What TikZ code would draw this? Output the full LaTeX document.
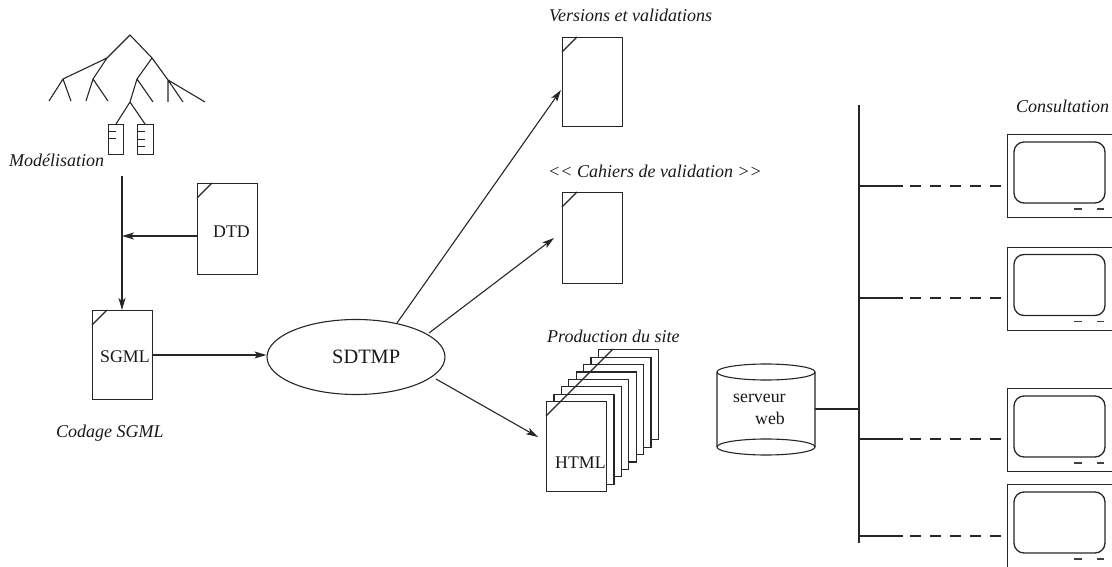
\documentclass[tikz,border=0pt]{standalone}
\usepackage{fontspec}
\setmainfont{Liberation Serif}
\usetikzlibrary{arrows.meta,shapes.geometric}
\tikzset{
 ln/.style={draw=black!85,line width=1.1pt},
 arr/.style={ln,-{Stealth[length=12pt,width=7pt,inset=3pt]}},
 lab/.style={font=\fontsize{18}{20}\selectfont\itshape,inner sep=0pt,text=black!90,anchor=base west},
 txt/.style={font=\fontsize{17.8}{20}\selectfont,inner sep=0pt,text=black!90,anchor=base west}
}
\newcommand{\docpage}[5]{% name,x0,y0,x1,y1
 \node[ln,fill=white,rectangle,inner sep=0pt,minimum width=#4pt-#2pt,minimum height=#5pt-#3pt,anchor=north west] (#1) at (#2,#3) {};
 \draw[ln] (#2,#3+15) -- (#2+15,#3);
}
\newcommand{\monitor}[2]{% name, y0
 \node[draw=black!85,line width=1.3pt,rectangle,inner sep=0pt,minimum width=105pt,minimum height=83pt,anchor=north west] (#1) at (1007,#2) {};
 \draw[draw=black!85,line width=1.3pt,rounded corners=10pt] (1014,#2+8) rectangle (1105,#2+69);
 \draw[draw=black!75,line width=1.4pt] (1074,#2+75) -- (1082,#2+75) (1097,#2+75) -- (1104,#2+75);
}
\begin{document}
\begin{tikzpicture}[x=1pt,y=-1pt]
\useasboundingbox (0,0) rectangle (1112,567);
% tree
\draw[ln,line join=round]
 (49,101) -- (63,79) -- (71,101)
 (63,79) -- (107,58) -- (130,35) -- (152,58) -- (137,79) -- (130,102)
 (86,101) -- (93,79) -- (108,101)
 (93,79) -- (107,58)
 (137,79) -- (153,102)
 (152,58) -- (168,80) -- (168,102)
 (168,80) -- (183,102)
 (168,80) -- (205,102)
 (130,102) -- (116,124)
 (130,102) -- (145,124);
\node[ln,rectangle,inner sep=0pt,minimum width=15pt,minimum height=30pt,anchor=north west] (leafA) at (108,124) {};
\node[ln,rectangle,inner sep=0pt,minimum width=16pt,minimum height=30pt,anchor=north west] (leafB) at (137,124) {};
\draw[ln,line width=.9pt] (108,131) -- (116,131) (108,138) -- (116,138) (137,131) -- (145,131) (137,139) -- (145,139) (137,146) -- (145,146);
\node[lab] (model) at (9,167) {Modélisation};
% left column
\docpage{dtd}{197}{183}{257}{274}
\node[txt] (dtdt) at (213,237) {DTD};
\docpage{sgml}{92}{310}{152}{399}
\node[txt] (sgmlt) at (100,362) {SGML};
\node[lab] (code) at (56,437) {Codage SGML};
\coordinate (top) at (122,176);
\coordinate (j) at (122,236);
\draw[arr] (top) -- (sgml.north -| top);
\draw[arr] (dtd.west |- j) -- (j);
% sdtmp
\node[ln,ellipse,minimum width=178pt,minimum height=75pt,inner sep=0pt] (sd) at (356,357) {};
\node[font=\fontsize{20.4}{22}\selectfont,inner sep=0pt,text=black!90,anchor=base west] (sdt) at (332,363) {SDTMP};
\coordinate (sa) at (152,355);
\draw[arr] (sa) -- (sd.west |- sa);
% right pages
\docpage{ver}{562}{37}{622}{126}
\node[lab] (vert) at (549,22) {Versions et validations};
\docpage{cah}{562}{192}{622}{283}
\node[lab] (caht) at (548,178) {<{}< Cahiers de validation >{}>};
\coordinate (a1) at (397,323);
\coordinate (a2) at (429,333);
\coordinate (a3) at (436,379);
\coordinate (e1) at (561,90);
\coordinate (e2) at (554,238);
\coordinate (e3) at (538,437);
\draw[arr] (a1) -- (e1);
\draw[arr] (a2) -- (e2);
\draw[arr] (a3) -- (e3);
% stack
\node[lab] (prod) at (547,342) {Production du site};
\foreach \i in {7,6,...,0}{
 \node[ln,fill=white,rectangle,inner sep=0pt,minimum width=60pt,minimum height=90pt,anchor=north west] (pg\i) at ({546+7.4*\i},{401-7.4*\i}) {};
}
\draw[ln] (546,416) -- (613,349);
\node[txt] (htmlt) at (555,468) {HTML};
% server
\draw[ln,fill=white] (717,372) -- (717,447) arc[start angle=180,end angle=360,x radius=49pt,y radius=8pt] -- (815,372);
\draw[ln] (717,447) arc[start angle=180,end angle=0,x radius=49pt,y radius=8pt];
\draw[ln] (766,372) ellipse[x radius=49pt,y radius=8pt];
\node[txt] (srvA) at (733,402) {serveur};
\node[txt] (srvB) at (755,424) {web};
\coordinate (srv) at (815,409);
% bus
\coordinate (busT) at (859,105);
\coordinate (busB) at (859,543);
\draw[ln,line width=1.5pt] (busT) -- (busB);
\draw[ln,line width=1.5pt] (srv) -- (srv -| busT);
\foreach \y in {186,298,439,536}{
 \draw[ln,line width=1.5pt] (859,\y) -- (903,\y);
 \draw[ln,line width=1.3pt,dash pattern=on 11pt off 9pt] (910,\y) -- (1001,\y);
}
\monitor{m1}{134}
\monitor{m2}{246.5}
\monitor{m3}{388}
\monitor{m4}{484}
\node[lab] (cons) at (1016,113) {Consultation};
\end{tikzpicture}
\end{document}
